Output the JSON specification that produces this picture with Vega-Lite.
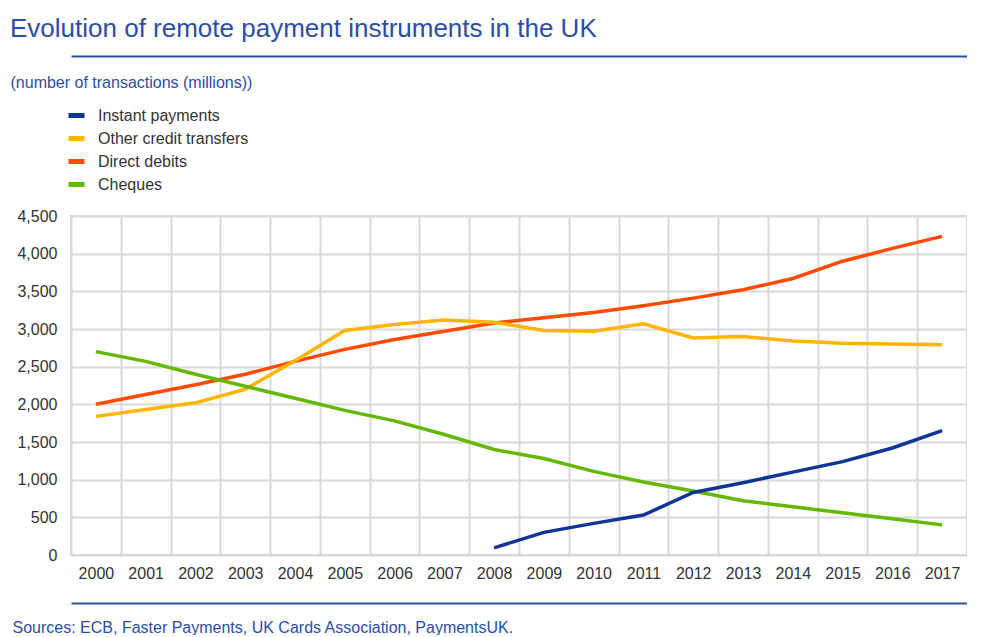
{
  "$schema": "https://vega.github.io/schema/vega-lite/v6.json",
  "width": 896,
  "height": 339,
  "padding": {"left": 10, "top": 16, "right": 0, "bottom": 0},
  "autosize": {"type": "pad"},
  "background": "white",
  "config": {
    "font": "Liberation Sans",
    "view": {"stroke": "#d9d9d9", "strokeWidth": 2}
  },
  "title": {
    "text": "Evolution of remote payment instruments in the UK",
    "anchor": "start",
    "frame": "bounds",
    "fontSize": 26,
    "fontWeight": "normal",
    "color": "#2b4ea6",
    "offset": 14
  },
  "data": {
    "values": [
      {"year": "2000", "series": "Direct debits", "value": 2000},
      {"year": "2001", "series": "Direct debits", "value": 2130},
      {"year": "2002", "series": "Direct debits", "value": 2260},
      {"year": "2003", "series": "Direct debits", "value": 2400},
      {"year": "2004", "series": "Direct debits", "value": 2570},
      {"year": "2005", "series": "Direct debits", "value": 2730},
      {"year": "2006", "series": "Direct debits", "value": 2860},
      {"year": "2007", "series": "Direct debits", "value": 2970},
      {"year": "2008", "series": "Direct debits", "value": 3080},
      {"year": "2009", "series": "Direct debits", "value": 3150},
      {"year": "2010", "series": "Direct debits", "value": 3220},
      {"year": "2011", "series": "Direct debits", "value": 3310},
      {"year": "2012", "series": "Direct debits", "value": 3410},
      {"year": "2013", "series": "Direct debits", "value": 3520},
      {"year": "2014", "series": "Direct debits", "value": 3670},
      {"year": "2015", "series": "Direct debits", "value": 3900},
      {"year": "2016", "series": "Direct debits", "value": 4070},
      {"year": "2017", "series": "Direct debits", "value": 4230},
      {"year": "2000", "series": "Other credit transfers", "value": 1840},
      {"year": "2001", "series": "Other credit transfers", "value": 1930},
      {"year": "2002", "series": "Other credit transfers", "value": 2020},
      {"year": "2003", "series": "Other credit transfers", "value": 2200},
      {"year": "2004", "series": "Other credit transfers", "value": 2580},
      {"year": "2005", "series": "Other credit transfers", "value": 2980},
      {"year": "2006", "series": "Other credit transfers", "value": 3060},
      {"year": "2007", "series": "Other credit transfers", "value": 3120},
      {"year": "2008", "series": "Other credit transfers", "value": 3090},
      {"year": "2009", "series": "Other credit transfers", "value": 2980},
      {"year": "2010", "series": "Other credit transfers", "value": 2970},
      {"year": "2011", "series": "Other credit transfers", "value": 3070},
      {"year": "2012", "series": "Other credit transfers", "value": 2880},
      {"year": "2013", "series": "Other credit transfers", "value": 2900},
      {"year": "2014", "series": "Other credit transfers", "value": 2840},
      {"year": "2015", "series": "Other credit transfers", "value": 2810},
      {"year": "2016", "series": "Other credit transfers", "value": 2800},
      {"year": "2017", "series": "Other credit transfers", "value": 2790},
      {"year": "2000", "series": "Cheques", "value": 2700},
      {"year": "2001", "series": "Cheques", "value": 2570},
      {"year": "2002", "series": "Cheques", "value": 2400},
      {"year": "2003", "series": "Cheques", "value": 2240},
      {"year": "2004", "series": "Cheques", "value": 2080},
      {"year": "2005", "series": "Cheques", "value": 1920},
      {"year": "2006", "series": "Cheques", "value": 1780},
      {"year": "2007", "series": "Cheques", "value": 1600},
      {"year": "2008", "series": "Cheques", "value": 1400},
      {"year": "2009", "series": "Cheques", "value": 1280},
      {"year": "2010", "series": "Cheques", "value": 1110},
      {"year": "2011", "series": "Cheques", "value": 970},
      {"year": "2012", "series": "Cheques", "value": 850},
      {"year": "2013", "series": "Cheques", "value": 720},
      {"year": "2014", "series": "Cheques", "value": 640},
      {"year": "2015", "series": "Cheques", "value": 560},
      {"year": "2016", "series": "Cheques", "value": 480},
      {"year": "2017", "series": "Cheques", "value": 400},
      {"year": "2008", "series": "Instant payments", "value": 95},
      {"year": "2009", "series": "Instant payments", "value": 300},
      {"year": "2010", "series": "Instant payments", "value": 420},
      {"year": "2011", "series": "Instant payments", "value": 530},
      {"year": "2012", "series": "Instant payments", "value": 830},
      {"year": "2013", "series": "Instant payments", "value": 960},
      {"year": "2014", "series": "Instant payments", "value": 1100},
      {"year": "2015", "series": "Instant payments", "value": 1240},
      {"year": "2016", "series": "Instant payments", "value": 1420},
      {"year": "2017", "series": "Instant payments", "value": 1650}
    ]
  },
  "layer": [
    {
      "mark": {"type": "line", "strokeWidth": 3.5},
      "encoding": {
        "x": {
          "field": "year",
          "type": "ordinal",
          "scale": {"type": "band", "paddingInner": 0, "paddingOuter": 0},
          "axis": {
            "orient": "bottom",
            "labelAngle": 0,
            "labelFontSize": 16,
            "labelColor": "#333333",
            "labelPadding": 10,
            "ticks": false,
            "domain": false,
            "grid": true,
            "tickBand": "extent",
            "gridColor": "#d9d9d9",
            "gridWidth": 2,
            "title": "Sources: ECB, Faster Payments, UK Cards Association, PaymentsUK.",
            "titleFontSize": 16,
            "titleFontWeight": "normal",
            "titleColor": "#2b4ea6",
            "titleAlign": "left",
            "titleBaseline": "alphabetic",
            "titleX": -59,
            "titleY": 77
          }
        },
        "y": {
          "field": "value",
          "type": "quantitative",
          "scale": {"domain": [0, 4500]},
          "axis": {
            "values": [0, 500, 1000, 1500, 2000, 2500, 3000, 3500, 4000, 4500],
            "format": ",.0f",
            "labelFontSize": 16,
            "labelColor": "#333333",
            "labelPadding": 14,
            "ticks": false,
            "domain": false,
            "gridColor": "#d9d9d9",
            "gridWidth": 2,
            "title": "(number of transactions (millions))",
            "titleAngle": 0,
            "titleFontSize": 16,
            "titleFontWeight": "normal",
            "titleColor": "#2b4ea6",
            "titleAlign": "left",
            "titleBaseline": "alphabetic",
            "titleX": -61,
            "titleY": -129
          }
        },
        "color": {
          "field": "series",
          "type": "nominal",
          "scale": {
            "domain": ["Instant payments", "Other credit transfers", "Direct debits", "Cheques"],
            "range": ["#0f3696", "#ffb400", "#ff4b00", "#65b800"]
          },
          "legend": {
            "orient": "none",
            "legendX": -5,
            "legendY": -111,
            "title": null,
            "direction": "vertical",
            "symbolType": "stroke",
            "symbolSize": 256,
            "symbolStrokeWidth": 5,
            "labelFontSize": 16,
            "labelColor": "#333333",
            "labelOffset": 11,
            "rowPadding": 2,
            "padding": 0
          }
        }
      }
    },
    {
      "mark": {"type": "point", "opacity": 0},
      "encoding": {
        "x": {
          "field": "year",
          "type": "ordinal",
          "scale": {"type": "band", "paddingInner": 0, "paddingOuter": 0},
          "axis": {
            "orient": "top",
            "offset": 160,
            "labels": false,
            "ticks": false,
            "grid": false,
            "title": null,
            "domain": true,
            "domainColor": "#2b4ea6",
            "domainWidth": 2
          }
        }
      }
    },
    {
      "mark": {"type": "point", "opacity": 0},
      "encoding": {
        "x": {
          "field": "year",
          "type": "ordinal",
          "scale": {"type": "band", "paddingInner": 0, "paddingOuter": 0},
          "axis": {
            "orient": "bottom",
            "offset": 48,
            "labels": false,
            "ticks": false,
            "grid": false,
            "title": null,
            "domain": true,
            "domainColor": "#2b4ea6",
            "domainWidth": 2
          }
        }
      }
    }
  ],
  "resolve": {"axis": {"x": "independent"}}
}
